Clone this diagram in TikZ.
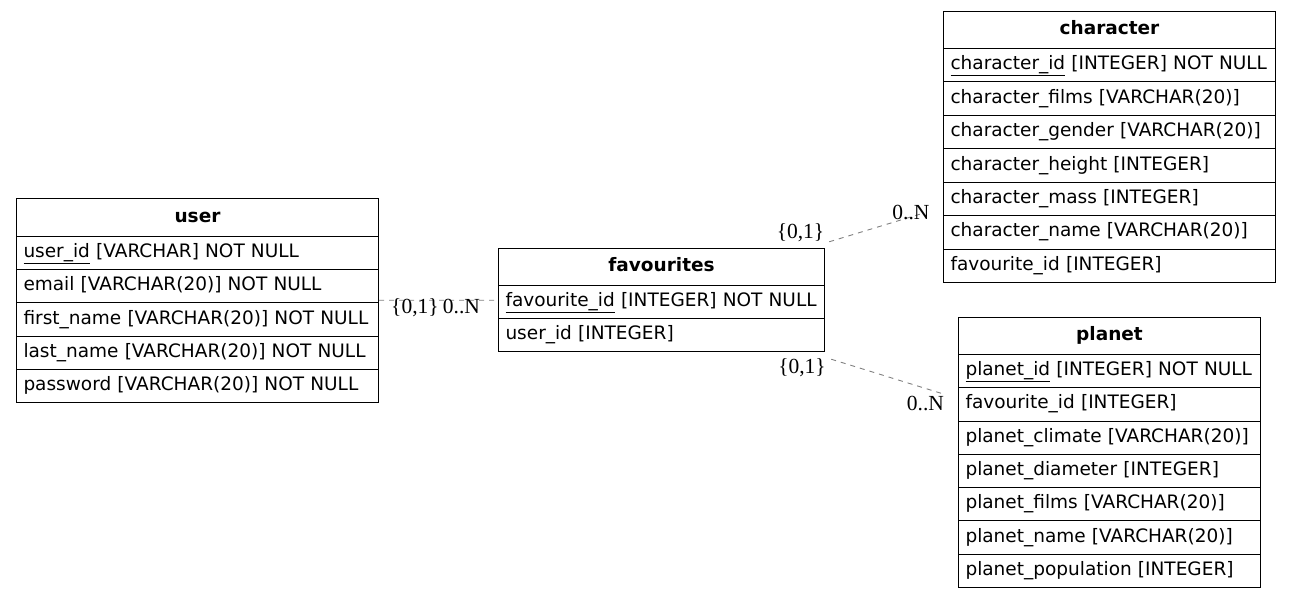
\documentclass[tikz,border=0pt]{standalone}
\usepackage{fontspec}
\newfontfamily\dejavu{DejaVu Sans}
\newfontfamily\lserif{Liberation Serif}
\usetikzlibrary{fit,calc}
\tikzset{
  tbl/.style={draw=black, line width=1pt, anchor=north west, inner xsep=7pt, inner ysep=0pt,
    text height=14pt, text depth=5pt},
  hdr/.style={tbl, text width=#1, align=center, font=\dejavu\bfseries\fontsize{18.5}{22}\selectfont},
  row/.style={tbl, text width=#1, align=left, font=\dejavu\fontsize{18.5}{22}\selectfont},
  grp/.style={inner sep=0pt},
  rel/.style={draw=gray, line width=0.9pt, dash pattern=on 5pt off 5pt},
  card/.style={font=\lserif\fontsize{21.5}{25}\selectfont, inner sep=0pt, anchor=base},
}
\begin{document}
\begin{tikzpicture}[x=1pt,y=-1pt]
\useasboundingbox (0,0) rectangle (1291,597);
% user
\node[hdr=348pt, minimum height=38pt] (u0) at (16,198) {user};
\node[row=348pt, minimum height=33.2pt] (u1) at (16,236) {\underline{user\_id} [VARCHAR] NOT NULL};
\node[row=348pt, minimum height=33.2pt] (u2) at (16,269.2) {email [VARCHAR(20)] NOT NULL};
\node[row=348pt, minimum height=33.2pt] (u3) at (16,302.4) {first\_name [VARCHAR(20)] NOT NULL};
\node[row=348pt, minimum height=33.2pt] (u4) at (16,335.6) {last\_name [VARCHAR(20)] NOT NULL};
\node[row=348pt, minimum height=33.2pt] (u5) at (16,368.8) {password [VARCHAR(20)] NOT NULL};
\node[grp, fit=(u0)(u5)] (user) {};
% favourites
\node[hdr=312pt, minimum height=37pt] (f0) at (498,248) {favourites};
\node[row=312pt, minimum height=33pt] (f1) at (498,285) {\underline{favourite\_id} [INTEGER] NOT NULL};
\node[row=312pt, minimum height=33pt] (f2) at (498,318) {user\_id [INTEGER]};
\node[grp, fit=(f0)(f2)] (fav) {};
% character
\node[hdr=318pt, minimum height=37pt] (c0) at (943,11) {character};
\node[row=318pt, minimum height=33.43pt] (c1) at (943,48) {\underline{character\_id} [INTEGER] NOT NULL};
\node[row=318pt, minimum height=33.43pt] (c2) at (943,81.43) {character\_films [VARCHAR(20)]};
\node[row=318pt, minimum height=33.43pt] (c3) at (943,114.86) {character\_gender [VARCHAR(20)]};
\node[row=318pt, minimum height=33.43pt] (c4) at (943,148.29) {character\_height [INTEGER]};
\node[row=318pt, minimum height=33.43pt] (c5) at (943,181.71) {character\_mass [INTEGER]};
\node[row=318pt, minimum height=33.43pt] (c6) at (943,215.14) {character\_name [VARCHAR(20)]};
\node[row=318pt, minimum height=33.43pt] (c7) at (943,248.57) {favourite\_id [INTEGER]};
\node[grp, fit=(c0)(c7)] (char) {};
% planet
\node[hdr=288pt, minimum height=37pt] (p0) at (958,317) {planet};
\node[row=288pt, minimum height=33.29pt] (p1) at (958,354) {\underline{planet\_id} [INTEGER] NOT NULL};
\node[row=288pt, minimum height=33.29pt] (p2) at (958,387.29) {favourite\_id [INTEGER]};
\node[row=288pt, minimum height=33.29pt] (p3) at (958,420.57) {planet\_climate [VARCHAR(20)]};
\node[row=288pt, minimum height=33.29pt] (p4) at (958,453.86) {planet\_diameter [INTEGER]};
\node[row=288pt, minimum height=33.29pt] (p5) at (958,487.14) {planet\_films [VARCHAR(20)]};
\node[row=288pt, minimum height=33.29pt] (p6) at (958,520.43) {planet\_name [VARCHAR(20)]};
\node[row=288pt, minimum height=33.29pt] (p7) at (958,553.71) {planet\_population [INTEGER]};
\node[grp, fit=(p0)(p7)] (planet) {};
% relations
\draw[rel] ($(user.south east)+(0,-103)$) -- ($(fav.south west)+(0,-52)$);
\draw[rel] ($(fav.north east)+(4,-6)$) -- ($(char.south west)+(-23,-69)$);
\draw[rel] ($(fav.south east)+(6,7)$) -- ($(planet.north west)+(-15,77)$);
% cardinalities
\node[card] (l1a) at (415,313) {\{0,1\}};
\node[card] (l1b) at (461.5,313) {0..N};
\node[card] (l2a) at (800.5,238) {\{0,1\}};
\node[card] (l2b) at (911,219) {0..N};
\node[card] (l3a) at (802,373) {\{0,1\}};
\node[card] (l3b) at (925.5,410) {0..N};
\end{tikzpicture}
\end{document}
